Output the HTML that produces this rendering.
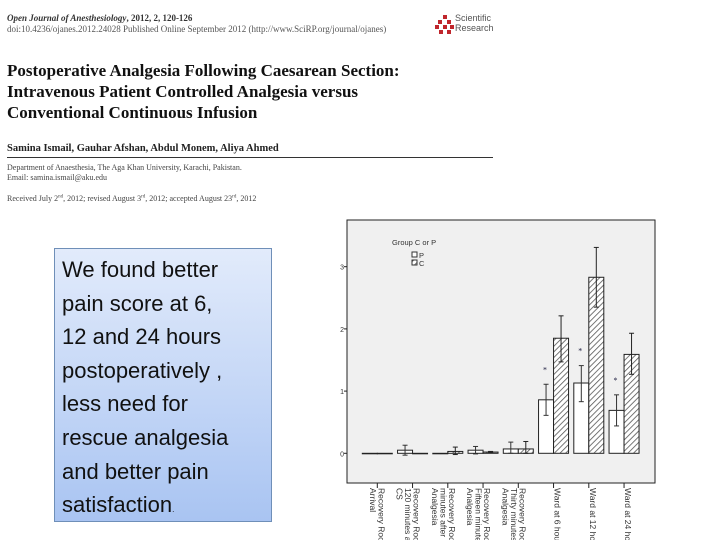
<!DOCTYPE html>
<html><head><meta charset="utf-8"><style>
body{margin:0;width:720px;height:540px;overflow:hidden;background:#fff;font-family:"Liberation Serif",serif;position:relative}
.a{position:absolute;white-space:nowrap}
</style></head><body>
<div class="a" style="left:7px;top:13px;font-size:9px;font-weight:bold;font-style:italic;color:#333">Open Journal of Anesthesiology<span style="font-style:normal">, 2012, 2, 120-126</span></div>
<div class="a" style="left:7px;top:24px;font-size:9px;color:#555">doi:10.4236/ojanes.2012.24028 Published Online September 2012 (http://www.SciRP.org/journal/ojanes)</div>
<div class="a" style="left:435px;top:13px;width:60px;height:24px">
<svg width="20" height="20" style="position:absolute;left:0;top:2px"><g fill="#c0262c"><rect x="8" y="0" width="4" height="4"/><rect x="3" y="5" width="4" height="4"/><rect x="12" y="5" width="4" height="4"/><rect x="0" y="10" width="4" height="4"/><rect x="8" y="10" width="4" height="4"/><rect x="15" y="10" width="4" height="4"/><rect x="4" y="15" width="4" height="4"/><rect x="12" y="15" width="4" height="4"/></g></svg>
<div class="a" style="left:20px;top:0;font-family:'Liberation Sans',sans-serif;font-size:9px;line-height:10px;color:#555">Scientific<br>Research</div></div>
<div class="a" style="left:7px;top:60px;font-size:17px;line-height:21px;font-weight:bold;color:#111">Postoperative Analgesia Following Caesarean Section:<br>Intravenous Patient Controlled Analgesia versus<br>Conventional Continuous Infusion</div>
<div class="a" style="left:7px;top:143px;font-size:10.5px;font-weight:bold;color:#222">Samina Ismail, Gauhar Afshan, Abdul Monem, Aliya Ahmed</div>
<div class="a" style="left:7px;top:157px;width:486px;height:1px;background:#333"></div>
<div class="a" style="left:7px;top:163px;font-size:8px;line-height:10px;color:#444">Department of Anaesthesia, The Aga Khan University, Karachi, Pakistan.<br>Email: samina.ismail@aku.edu</div>
<div class="a" style="left:7px;top:194px;font-size:8px;color:#444">Received July 2<sup style="font-size:5px">nd</sup>, 2012; revised August 3<sup style="font-size:5px">rd</sup>, 2012; accepted August 23<sup style="font-size:5px">rd</sup>, 2012</div>
<div class="a" style="left:54px;top:248px;width:218px;height:274px;border:1px solid #6f8fb8;background:linear-gradient(#e2ebfb,#a9c4f2);box-sizing:border-box;padding:4px 0 0 7px;font-family:'Liberation Sans',sans-serif;font-size:22px;line-height:33.6px;color:#111">We found better<br>pain score at 6,<br>12 and 24 hours<br>postoperatively ,<br>less need for<br>rescue analgesia<br>and better pain<br>satisfaction<span style="font-size:8px">.</span></div>
<svg class="a" style="left:0;top:0" width="720" height="540" id="ch">
<defs>
<pattern id="hatch" width="4" height="4" patternUnits="userSpaceOnUse" patternTransform="rotate(45)"><rect width="4" height="4" fill="#fff"/><line x1="0" y1="0" x2="0" y2="4" stroke="#555" stroke-width="1.6"/></pattern>
</defs>
<rect x="347" y="220" width="308" height="263" fill="#f0f0f0" stroke="#222" stroke-width="1"/>
</svg>
<script>
const categories=[["Recovery Roo","Arrival"],["Recovery Roo","120 minutes a","CS"],["Recovery Roo","minutes after","Analgesia"],["Recovery Roo","Fifteen minute","Analgesia"],["Recovery Roo","Thirty minutes","Analgesia"],["Ward at 6 hou"],["Ward at 12 ho"],["Ward at 24 ho"]];
const pValues=[0,0.05,0,0.05,0.07,0.86,1.13,0.69];
const pLow=[0,-0.03,0,-0.01,0,0.61,0.83,0.44];
const pHigh=[0,0.13,0,0.11,0.18,1.11,1.41,0.94];
const cValues=[0,0,0.03,0.02,0.07,1.85,2.83,1.59];
const cLow=[0,0,-0.02,0.01,0,1.47,2.35,1.27];
const cHigh=[0,0,0.1,0.03,0.19,2.21,3.31,1.93];
const yTicks=[0,1,2,3];
const sig=[false,false,false,false,false,true,true,true];
const svg=document.getElementById('ch');const NS='http://www.w3.org/2000/svg';
function y(v){return 453.3-v*62.2;}
function x(i){return 377.3+i*35.25;}
function mk(t,a,p){const e=document.createElementNS(NS,t);for(const k in a)e.setAttribute(k,a[k]);(p||svg).appendChild(e);return e;}
yTicks.forEach(t=>{
const tx=mk('text',{x:344,y:y(t)+3,'font-size':7,'font-family':'Liberation Sans','text-anchor':'end',fill:'#333'});tx.textContent=t;


const tk=mk('line',{x1:344,x2:347,y1:y(t),y2:y(t),stroke:'#222'});


});
const bw=15;
function eb(cx,lo,hi,col){const g=mk('g',{stroke:col,'stroke-width':1});
mk('line',{x1:cx,x2:cx,y1:y(hi),y2:y(lo)},g);mk('line',{x1:cx-2.5,x2:cx+2.5,y1:y(hi),y2:y(hi)},g);mk('line',{x1:cx-2.5,x2:cx+2.5,y1:y(lo),y2:y(lo)},g);return g;}
categories.forEach((c,i)=>{
const cx=x(i);
const bp=mk('rect',{x:cx-bw,y:y(pValues[i]),width:bw,height:Math.max(0.5,y(0)-y(pValues[i])),fill:'#fff',stroke:'#222','stroke-width':1});


const bc=mk('rect',{x:cx,y:y(cValues[i]),width:bw,height:Math.max(0.5,y(0)-y(cValues[i])),fill:'url(#hatch)',stroke:'#222','stroke-width':1});


if(pHigh[i]>pLow[i]){const e=eb(cx-bw/2,pLow[i],pHigh[i],'#333');

}
if(cHigh[i]>cLow[i]){const e=eb(cx+bw/2,cLow[i],cHigh[i],'#222');

}
if(sig[i]){const s=mk('text',{x:cx-bw/2-1,y:y(pHigh[i])-12,'font-size':8,'text-anchor':'middle',fill:'#224'});s.textContent='*';

}
const tk=mk('line',{x1:cx,x2:cx,y1:483,y2:488,stroke:'#222'});


const g=mk('g',{transform:`translate(${cx+1},488) rotate(90)`});


c.forEach((ln,j)=>{const t=mk('text',{x:0,y:j*8.5,'font-size':8.5,'font-family':'Liberation Sans',fill:'#333'},g);t.textContent=ln;});
});
const lg=mk('g',{'font-family':'Liberation Sans','font-size':7.5,fill:'#333'});


let t=mk('text',{x:392,y:245},lg);t.textContent='Group C or P';
mk('rect',{x:412,y:252,width:5,height:5,fill:'#fff',stroke:'#333'},lg);
t=mk('text',{x:419,y:258},lg);t.textContent='P';
mk('rect',{x:412,y:260,width:5,height:5,fill:'url(#hatch)',stroke:'#333'},lg);
t=mk('text',{x:419,y:266},lg);t.textContent='C';
</script>
</body></html>
